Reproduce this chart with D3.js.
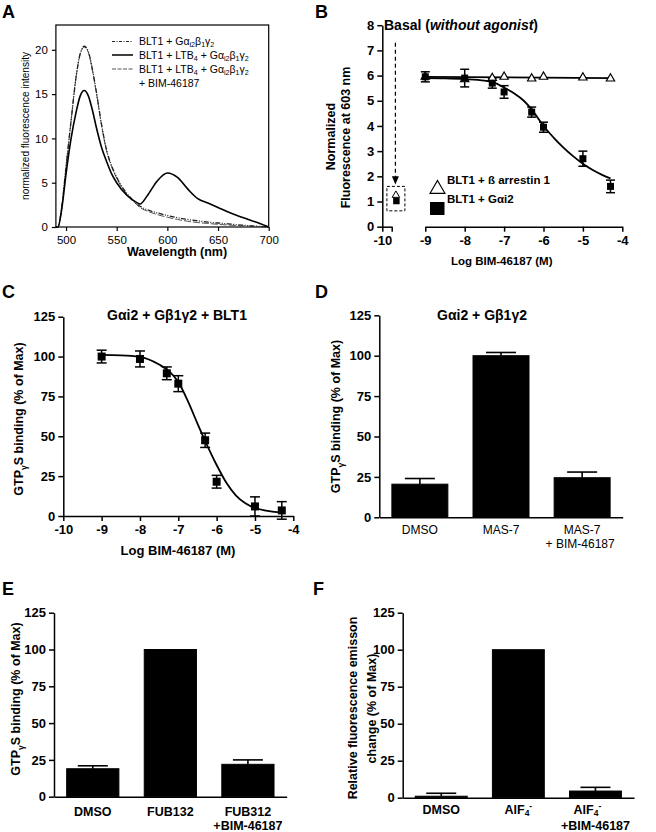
<!DOCTYPE html>
<html><head><meta charset="utf-8">
<script src="https://cdn.jsdelivr.net/npm/d3@7"></script>
<style>
body{margin:0;background:#fff}
svg{display:block}
text{font-family:'Liberation Sans',Arial,Helvetica,sans-serif;fill:#000}
</style>
</head><body><svg id="c" width="656" height="832"></svg>
<script>
// ================= DATA =================
// Panel A: emission spectra
const specWavelength = [490,492,496,500,505,510,514,518,522,526,530,535,540,545,550,560,570,573,580,590,600,610,620,630,640,650,660,670,680,690,700];
const specNoAgonist  = [0,0,2.5,6.8,12,17,19.6,20.4,19.8,17.8,15.2,11.6,8.7,6.9,5.6,3.8,2.6,2.35,1.95,1.6,1.3,1.05,0.85,0.7,0.55,0.45,0.35,0.25,0.15,0.08,0];
const specLTB4       = [0,0,2.2,6,10,13,14.8,15.4,14.8,13.2,11.2,9,7.4,6,5,3.6,2.75,2.6,3.5,5.2,6.1,5.6,4.3,3.2,2.7,2.2,1.7,1.25,0.85,0.45,0];
const specLTB4BIM    = [0,0,2.5,6.8,12,17,19.5,20.3,19.7,17.7,15.1,11.5,8.6,6.8,5.5,3.7,2.5,2.2,1.8,1.4,1.1,0.85,0.65,0.5,0.4,0.3,0.22,0.15,0.1,0.05,0];
const specTicksX = [500,550,600,650,700];
const specTicksY = [0,5,10,15,20];

// Panel B: basal fluorescence at 603 nm
const logDoses = [-9,-8,-7.3,-7,-6.3,-6,-5,-4.3];
const bArrestin = [5.95,5.85,5.9,5.95,5.88,5.95,5.92,5.88];
const bGai2     = [5.95,5.9,5.7,5.35,4.55,3.95,2.7,1.6];
const bGai2Err  = [0.2,0.35,0.2,0.25,0.2,0.2,0.3,0.25];
const bArrFitX  = [-9,-4.3];
const bArrFitY  = [5.95,5.9];
const bGaiFitX  = [-9,-8.5,-8,-7.5,-7.25,-7,-6.75,-6.5,-6.25,-6,-5.75,-5.5,-5.25,-5,-4.75,-4.5,-4.3];
const bGaiFitY  = [5.9,5.89,5.86,5.8,5.72,5.52,5.3,5.0,4.55,4.0,3.55,3.15,2.8,2.5,2.25,2.05,1.92];
const bBasalX = -9.25;
const bBasalArrestin = 1.25;
const bBasalGai2 = 1.02;
const bTicksY = [0,1,2,3,4,5,6,7,8];
const bTicksX = [-9,-8,-7,-6,-5,-4];

// Panel C: GTPγS binding dose response
const cGtp    = [100,98.5,89.5,83,47.5,21.5,6,3.5];
const cGtpErr = [4,5,4,5,4.5,4,6,5.5];
const cFitX = [-9,-8.5,-8,-7.5,-7.25,-7,-6.75,-6.5,-6.25,-6,-5.75,-5.5,-5.25,-5,-4.75,-4.5,-4.3];
const cFitY = [101,100.8,99.8,95,91,84,72,58,44.5,32,21,13,8,5,3.5,2.6,2.2];
const pctTicks = [0,25,50,75,100,125];
const cTicksX = [-10,-9,-8,-7,-6,-5,-4];

// Panel D
const dCats = ["DMSO","MAS-7","MAS-7 + BIM-46187"];
const dVals = [20.5,100,24.5];
const dErr  = [3.5,2,3.5];
// Panel E
const eCats = ["DMSO","FUB132","FUB312 +BIM-46187"];
const eVals = [19,100,22];
const eErr  = [2,0,3];
// Panel F
const fCats = ["DMSO","AlF4-","AlF4- +BIM-46187"];
const fVals = [1,100,4.5];
const fErr  = [2,0,2.5];

// ================= HELPERS =================
const FONT = "'Liberation Sans', Arial, Helvetica, sans-serif";
const svg = d3.select('#c');

function rich(parent, x, y, segs, o) {
  o = o || {};
  const fs = o.size || 12;
  const subShift = o.subShift != null ? o.subShift : 0.3;
  const t = parent.append('text')
    .attr('font-size', fs)
    .attr('font-weight', o.bold ? 'bold' : 'normal')
    .attr('text-anchor', o.anchor || 'start');
  if (o.rotate) t.attr('transform', `translate(${x},${y}) rotate(-90)`);
  else t.attr('x', x).attr('y', y);
  let off = 0;
  segs.forEach(s => {
    const txt = Array.isArray(s) ? s[0] : s;
    const k = Array.isArray(s) ? s[1] : 'n';
    const target = k === 'sub' ? fs * subShift : k === 'sup' ? -fs * 0.4 : 0;
    const ts = t.append('tspan').text(txt).attr('dy', target - off);
    off = target;
    if (k === 'sub' || k === 'sup') ts.attr('font-size', fs * 0.68);
    if (k === 'it') ts.attr('font-style', 'italic');
  });
  return t;
}

function styleAxis(a, fs, bold, sw) {
  a.attr('font-family', FONT).attr('font-size', fs);
  a.select('.domain').attr('stroke', '#000').attr('stroke-width', sw || 1.5);
  a.selectAll('.tick line').attr('stroke', '#000').attr('stroke-width', sw || 1.5);
  a.selectAll('.tick text').attr('fill', '#000').attr('font-weight', bold ? 'bold' : 'normal');
  return a;
}

function yAxis(x, scale, ticks, fs, bold, sw) {
  const a = svg.append('g').attr('transform', `translate(${x},0)`)
    .call(d3.axisLeft(scale).tickValues(ticks).tickSize(5).tickSizeOuter(0).tickPadding(3).tickFormat(d => String(d)));
  return styleAxis(a, fs, bold, sw);
}
function xAxis(y, scale, ticks, fs, bold, sw, fmt) {
  const a = svg.append('g').attr('transform', `translate(0,${y})`)
    .call(d3.axisBottom(scale).tickValues(ticks).tickSize(5).tickSizeOuter(0).tickPadding(4).tickFormat(fmt || (d => String(d))));
  return styleAxis(a, fs, bold, sw);
}

function letter(x, y, s) {
  svg.append('text').attr('x', x).attr('y', y).attr('font-size', 18).attr('font-weight', 'bold').text(s);
}

// ================= PANEL A =================
{
  const x = d3.scaleLinear().domain([490, 700]).range([55.9, 268.7]);
  const y = d3.scaleLinear().domain([0, 22.8]).range([227, 25]);
  letter(2, 18, 'A');
  svg.append('rect').attr('x', x(490)).attr('y', y(22.8)).attr('width', x(700) - x(490)).attr('height', y(0) - y(22.8))
    .attr('fill', 'none').attr('stroke', '#000').attr('stroke-width', 1.2);
  const ax = xAxis(y(0), x, specTicksX, 11.5, false, 1.2);
  ax.select('.domain').remove();
  ax.selectAll('.tick line').attr('y2', 4);
  const ay = yAxis(x(490), y, specTicksY, 11.5, false, 1.2);
  ay.select('.domain').remove();
  ay.selectAll('.tick line').attr('x2', -4);

  const line = d3.line().x((d, i) => x(specWavelength[i])).y(d => y(d)).curve(d3.curveMonotoneX);
  svg.append('path').attr('d', line(specLTB4BIM)).attr('fill', 'none').attr('stroke', '#555').attr('stroke-width', 1).attr('stroke-dasharray', '7,2');
  svg.append('path').attr('d', line(specNoAgonist)).attr('fill', 'none').attr('stroke', '#222').attr('stroke-width', 1.3).attr('stroke-dasharray', '5,1.5,1,1.5,1,1.5');
  svg.append('path').attr('d', line(specLTB4)).attr('fill', 'none').attr('stroke', '#000').attr('stroke-width', 1.6);

  // legend
  const lg = [
    {dash: '3,1.5,1,1.5', col: '#222', w: 1.2, y: 41.5, segs: ['BLT1 + G', 'α', ['i2', 'sub'], 'β', ['1', 'sub'], 'γ', ['2', 'sub']]},
    {dash: null, col: '#000', w: 1.5, y: 55, segs: ['BLT1 + LTB', ['4', 'sub'], ' + G', 'α', ['i2', 'sub'], 'β', ['1', 'sub'], 'γ', ['2', 'sub']]},
    {dash: '4,1.5', col: '#555', w: 1, y: 69, segs: ['BLT1 + LTB', ['4', 'sub'], ' + G', 'α', ['i2', 'sub'], 'β', ['1', 'sub'], 'γ', ['2', 'sub']]}
  ];
  lg.forEach(l => {
    const p = svg.append('line').attr('x1', 112).attr('x2', 133).attr('y1', l.y).attr('y2', l.y).attr('stroke', l.col).attr('stroke-width', l.w);
    if (l.dash) p.attr('stroke-dasharray', l.dash);
    rich(svg, 139, l.y + 3.5, l.segs, {size: 10.5, subShift: 0.22});
  });
  rich(svg, 139, 86.5, ['+ BIM-46187'], {size: 10.5});

  rich(svg, 177, 256, ['Wavelength (nm)'], {size: 12.5, bold: true, anchor: 'middle'});
  rich(svg, 28.5, 126, ['normalized fluorescence intensity'], {size: 10, anchor: 'middle', rotate: true});
}

// ================= PANEL B =================
{
  const y = d3.scaleLinear().domain([0, 8]).range([226.7, 25.2]);
  const xR = d3.scaleLinear().domain([-9, -4]).range([425.3, 622.3]);
  const xL = d3.scaleLinear().domain([-10, -9.5]).range([382.3, 391.7]);
  letter(315, 18, 'B');
  yAxis(382.3, y, bTicksY, 13, true, 1.5);
  xAxis(y(0), xR, bTicksX, 13, true, 1.5);
  xAxis(y(0), xL, [-10, -9.5], 13, true, 1.5, d => d === -10 ? '-10' : '');

  const line = d3.line().x(d => xR(d[0])).y(d => y(d[1])).curve(d3.curveMonotoneX);
  svg.append('path').attr('d', line(bArrFitX.map((v, i) => [v, bArrFitY[i]]))).attr('fill', 'none').attr('stroke', '#000').attr('stroke-width', 1.6);
  svg.append('path').attr('d', line(bGaiFitX.map((v, i) => [v, bGaiFitY[i]]))).attr('fill', 'none').attr('stroke', '#000').attr('stroke-width', 1.8);

  logDoses.forEach((d, i) => {
    const cx = xR(d);
    svg.append('line').attr('x1', cx).attr('x2', cx).attr('y1', y(bGai2[i] - bGai2Err[i])).attr('y2', y(bGai2[i] + bGai2Err[i])).attr('stroke', '#000').attr('stroke-width', 1.5);
    [bGai2[i] - bGai2Err[i], bGai2[i] + bGai2Err[i]].forEach(v =>
      svg.append('line').attr('x1', cx - 4.5).attr('x2', cx + 4.5).attr('y1', y(v)).attr('y2', y(v)).attr('stroke', '#000').attr('stroke-width', 1.5));
  });
  const tri = d3.symbol(d3.symbolTriangle, 30);
  const sq = d3.symbol(d3.symbolSquare, 49);
  logDoses.forEach((d, i) => {
    svg.append('path').attr('d', tri()).attr('transform', `translate(${xR(d)},${y(bArrestin[i])})`).attr('fill', '#fff').attr('stroke', '#000').attr('stroke-width', 1.2);
  });
  logDoses.forEach((d, i) => {
    svg.append('path').attr('d', sq()).attr('transform', `translate(${xR(d)},${y(bGai2[i])})`).attr('fill', '#000');
  });

  // basal point
  const bx = xL(bBasalX);
  svg.append('rect').attr('x', bx - 9.5).attr('y', y(1.6)).attr('width', 18).attr('height', y(0.63) - y(1.6))
    .attr('fill', 'none').attr('stroke', '#000').attr('stroke-width', 1).attr('stroke-dasharray', '3,2');
  svg.append('line').attr('x1', bx - 1).attr('x2', bx - 1).attr('y1', y(7.3)).attr('y2', y(1.9)).attr('stroke', '#000').attr('stroke-width', 1.2).attr('stroke-dasharray', '4,3');
  svg.append('path').attr('d', `M${bx - 4.5},${y(2.0)} L${bx + 2.5},${y(2.0)} L${bx - 1},${y(1.68)} Z`).attr('fill', '#000');
  svg.append('path').attr('d', d3.symbol(d3.symbolTriangle, 24)()).attr('transform', `translate(${bx - 0.5},${y(bBasalArrestin)})`).attr('fill', '#fff').attr('stroke', '#000').attr('stroke-width', 1);
  svg.append('path').attr('d', d3.symbol(d3.symbolSquare, 42)()).attr('transform', `translate(${bx},${y(bBasalGai2)})`).attr('fill', '#000');

  // legend
  svg.append('path').attr('d', d3.symbol(d3.symbolTriangle, 95)()).attr('transform', 'translate(437.5,189)').attr('fill', '#fff').attr('stroke', '#000').attr('stroke-width', 1.2);
  svg.append('rect').attr('x', 430).attr('y', 202).attr('width', 14.5).attr('height', 13).attr('fill', '#000');
  rich(svg, 447, 184, ['BLT1 + ß arrestin 1'], {size: 11.5, bold: true});
  rich(svg, 447, 203, ['BLT1 + G', 'α', 'i2'], {size: 11.5, bold: true});

  rich(svg, 384, 30, ['Basal (', ['without agonist', 'it'], ')'], {size: 14, bold: true});
  rich(svg, 501.7, 265, ['Log BIM-46187 (M)'], {size: 11.5, bold: true, anchor: 'middle'});
  rich(svg, 334.5, 136.5, ['Normalized'], {size: 12.5, bold: true, anchor: 'middle', rotate: true});
  rich(svg, 349.5, 137.5, ['Fluorescence at 603 nm'], {size: 12.5, bold: true, anchor: 'middle', rotate: true});
}

// ================= PANEL C =================
{
  const y = d3.scaleLinear().domain([0, 125]).range([516, 316.7]);
  const x = d3.scaleLinear().domain([-10, -4]).range([63.3, 293.3]);
  letter(2, 298, 'C');
  yAxis(63.3, y, pctTicks, 13, true, 1.5);
  xAxis(516, x, cTicksX, 13, true, 1.5);
  const line = d3.line().x(d => x(d[0])).y(d => y(d[1])).curve(d3.curveMonotoneX);
  svg.append('path').attr('d', line(cFitX.map((v, i) => [v, cFitY[i]]))).attr('fill', 'none').attr('stroke', '#000').attr('stroke-width', 1.8);
  logDoses.forEach((d, i) => {
    const cx = x(d);
    svg.append('line').attr('x1', cx).attr('x2', cx).attr('y1', y(cGtp[i] - cGtpErr[i])).attr('y2', y(cGtp[i] + cGtpErr[i])).attr('stroke', '#000').attr('stroke-width', 1.5);
    [cGtp[i] - cGtpErr[i], cGtp[i] + cGtpErr[i]].forEach(v =>
      svg.append('line').attr('x1', cx - 5).attr('x2', cx + 5).attr('y1', y(v)).attr('y2', y(v)).attr('stroke', '#000').attr('stroke-width', 1.5));
    svg.append('path').attr('d', d3.symbol(d3.symbolSquare, 64)()).attr('transform', `translate(${cx},${y(cGtp[i])})`).attr('fill', '#000');
  });
  rich(svg, 177, 320, ['G', 'α', 'i2 + G', 'β', '1', 'γ', '2 + BLT1'], {size: 14, bold: true, anchor: 'middle'});
  rich(svg, 178, 555, ['Log BIM-46187 (M)'], {size: 13, bold: true, anchor: 'middle'});
  rich(svg, 23, 419, ['GTP', ['γ', 'sub'], 'S binding (% of Max)'], {size: 12.5, bold: true, anchor: 'middle', rotate: true});
}

// ================= BAR PANELS =================
function barPanel(o) {
  const y = d3.scaleLinear().domain([0, 125]).range([o.y0, o.y125]);
  const x = d3.scaleBand().domain(o.cats).range([o.x0, o.x1]).paddingInner(o.pad).paddingOuter(o.pad / 2);
  o.cats.forEach((c, i) => {
    const bx = x(c), bw = x.bandwidth(), cx = bx + bw / 2;
    if (o.err[i] > 0) {
      svg.append('line').attr('x1', cx).attr('x2', cx).attr('y1', y(o.vals[i])).attr('y2', y(o.vals[i] + o.err[i])).attr('stroke', '#000').attr('stroke-width', 1.6);
      svg.append('line').attr('x1', cx - o.cap / 2).attr('x2', cx + o.cap / 2).attr('y1', y(o.vals[i] + o.err[i])).attr('y2', y(o.vals[i] + o.err[i])).attr('stroke', '#000').attr('stroke-width', 1.6);
    }
    svg.append('rect').attr('x', bx).attr('y', y(o.vals[i])).attr('width', bw).attr('height', y(0) - y(o.vals[i]))
      .attr('fill', '#000').attr('stroke', '#000').attr('stroke-width', 1);
  });
  yAxis(o.x0, y, pctTicks, 13, true, 1.5);
  const ax = svg.append('g').attr('transform', `translate(0,${o.y0})`)
    .call(d3.axisBottom(x).tickSize(0).tickFormat(''));
  ax.select('.domain').attr('stroke', '#000').attr('stroke-width', 1.5);
  o.cats.forEach((c, i) => {
    const cx = x(c) + x.bandwidth() / 2;
    o.labels[i].forEach((segs, j) => {
      rich(svg, cx + (o.labelDx ? o.labelDx[i][j] : 0), o.labY + j * o.labDy, segs,
        {size: o.labSize, bold: o.labBold, anchor: 'middle', subShift: o.subShift});
    });
  });
  return {x, y};
}

// Panel D
letter(315, 298, 'D');
barPanel({cats: dCats, vals: dVals, err: dErr, x0: 379.3, x1: 622.7, y0: 517.3, y125: 315.3, pad: 0.31, cap: 30,
  labels: [[['DMSO']], [['MAS-7']], [['MAS-7'], ['+ BIM-46187']]], labY: 534, labDy: 13.5, labSize: 12, labBold: false,
  labelDx: [[0], [0], [0, -2]]});
rich(svg, 482, 320, ['G', 'α', 'i2 + G', 'β', '1', 'γ', '2'], {size: 14, bold: true, anchor: 'middle'});
rich(svg, 340, 416.5, ['GTP', ['γ', 'sub'], 'S binding (% of Max)'], {size: 12.5, bold: true, anchor: 'middle', rotate: true});

// Panel E
letter(2, 595, 'E');
barPanel({cats: eCats, vals: eVals, err: eErr, x0: 54, x1: 286.7, y0: 796.7, y125: 612.7, pad: 0.327, cap: 30,
  labels: [[['DMSO']], [['FUB132']], [['FUB312'], ['+BIM-46187']]], labY: 815.5, labDy: 14.5, labSize: 12.5, labBold: true});
rich(svg, 20, 699, ['GTP', ['γ', 'sub'], 'S binding (% of Max)'], {size: 12.5, bold: true, anchor: 'middle', rotate: true});

// Panel F
letter(313, 595, 'F');
barPanel({cats: fCats, vals: fVals, err: fErr, x0: 402.7, x1: 634, y0: 797.7, y125: 612.7, pad: 0.327, cap: 30,
  labels: [[['DMSO']], [['AlF', ['4', 'sub'], ['-', 'sup']]], [['AlF', ['4', 'sub'], ['-', 'sup']], ['+BIM-46187']]],
  labY: 814, labDy: 16, labSize: 12.5, labBold: true, subShift: 0.18, labelDx: [[0], [0], [-8, 0]]});
rich(svg, 357, 708, ['Relative fluorescence emisson'], {size: 12.5, bold: true, anchor: 'middle', rotate: true});
rich(svg, 376, 708.5, ['change (% of Max)'], {size: 12.5, bold: true, anchor: 'middle', rotate: true});
</script>
</body></html>
